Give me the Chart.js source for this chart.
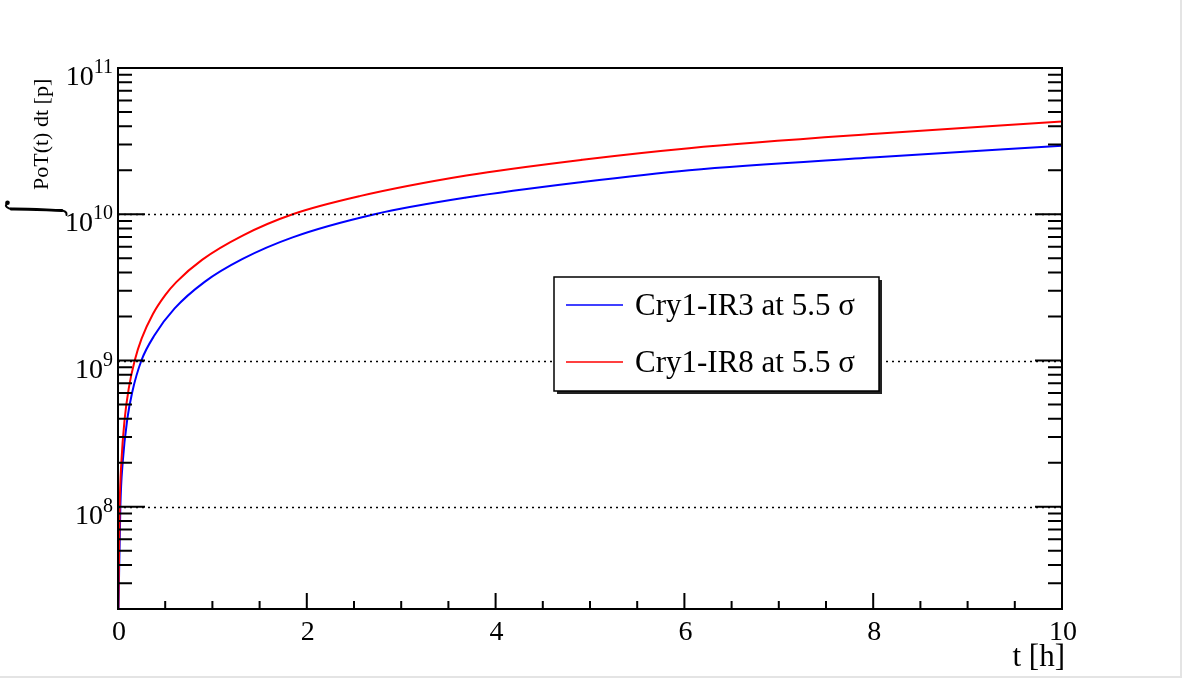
<!DOCTYPE html>
<html lang="en">
<head>
  <meta charset="UTF-8" />
  <title>Integrated PoT vs time</title>
  <script src="https://cdn.jsdelivr.net/npm/chart.js"></script>
  <style>
    html, body { margin: 0; padding: 0; background: #fff; }
    #wrap { width: 1182px; height: 678px; position: relative; }
  </style>
</head>
<body>
  <div id="wrap"><canvas id="chart"></canvas></div>

  <script>
    // values: time [h] and integrated protons on target [p]
    const tIR3 = [0.005, 0.025, 0.05, 0.10, 0.15, 0.248, 0.39, 0.60, 0.918, 1.32, 1.85, 2.72, 3.69, 4.92, 6.05, 8.03, 10];
    const potIR3 = [2.0e7, 1.0e8, 2.02e8, 4.03e8, 6.05e8, 1.0e9, 1.5e9, 2.27e9, 3.45e9, 4.95e9, 6.95e9, 1.0e10, 1.3e10, 1.66e10, 2.0e10, 2.45e10, 2.94e10];

    const tIR8 = [0.0035, 0.018, 0.036, 0.07, 0.113, 0.177, 0.25, 0.37, 0.5, 0.62, 0.89, 1.32, 1.85, 2.56, 3.69, 4.92, 6.05, 8.03, 10];
    const potIR8 = [2.0e7, 1.02e8, 2.03e8, 3.95e8, 6.4e8, 1.0e9, 1.41e9, 2.08e9, 2.8e9, 3.45e9, 4.88e9, 7.15e9, 1.0e10, 1.33e10, 1.84e10, 2.36e10, 2.83e10, 3.55e10, 4.3e10];

    const seriesNames = ['Cry1-IR3 at 5.5 σ', 'Cry1-IR8 at 5.5 σ'];
    const xTicks = [0, 2, 4, 6, 8, 10];
    const yDecades = [8, 9, 10, 11];   // labels 10^n
    const yMin = 2e7, yMax = 1e11;

    const FONT = '"Liberation Serif", "DejaVu Serif", serif';

    function toPoints(ts, vs) {
      return ts.map((t, i) => ({ x: t, y: vs[i] }));
    }

    // integral sign lying on its side (axis title is rotated)
    function drawIntegral(ctx) {
      ctx.save();
      ctx.strokeStyle = '#000';
      ctx.fillStyle = '#000';
      ctx.lineCap = 'round';
      ctx.lineWidth = 2.8;
      ctx.beginPath();
      ctx.moveTo(11, 209);
      ctx.bezierCurveTo(28, 208.8, 46, 210, 62, 210.5);
      ctx.stroke();
      ctx.lineWidth = 2;
      ctx.beginPath();
      ctx.moveTo(12, 209);
      ctx.bezierCurveTo(7, 209, 5, 206, 6.5, 203.5);
      ctx.moveTo(61, 210.5);
      ctx.bezierCurveTo(65, 210.7, 67, 212.5, 66.5, 215);
      ctx.stroke();
      ctx.beginPath();
      ctx.arc(7.5, 202.8, 2.3, 0, Math.PI * 2);
      ctx.fill();
      ctx.restore();
    }

    // ROOT style frame, ticks, labels, legend
    const rootStyle = {
      id: 'rootStyle',
      beforeDraw(chart) {
        const ctx = chart.ctx;
        ctx.save();
        ctx.fillStyle = '#fff';
        ctx.fillRect(0, 0, chart.width, chart.height);
        ctx.fillStyle = '#e4e4e4';
        ctx.fillRect(chart.width - 2, 0, 2, chart.height);
        ctx.fillRect(0, chart.height - 2, chart.width, 2);
        ctx.restore();
      },
      afterDatasetsDraw(chart) {
        const ctx = chart.ctx;
        const a = chart.chartArea;
        const xs = chart.scales.x, ys = chart.scales.y;
        ctx.save();

        // dotted grid at decades
        ctx.strokeStyle = '#000';
        ctx.lineWidth = 1.5;
        ctx.setLineDash([2, 4]);
        yDecades.forEach(n => {
          const y = Math.round(ys.getPixelForValue(Math.pow(10, n))) + 0.5;
          if (y > a.top + 2 && y < a.bottom - 2) {
            ctx.beginPath();
            ctx.moveTo(a.left, y);
            ctx.lineTo(a.right, y);
            ctx.stroke();
          }
        });
        ctx.setLineDash([]);

        // y ticks, left and right
        ctx.lineWidth = 2;
        ctx.beginPath();
        for (let d = 7; d <= 10; d++) {
          for (let k = 1; k <= 9; k++) {
            const v = k * Math.pow(10, d);
            if (v < yMin || v > yMax) continue;
            const y = ys.getPixelForValue(v);
            const len = k === 1 ? 27 : 14;
            ctx.moveTo(a.left, y); ctx.lineTo(a.left + len, y);
            ctx.moveTo(a.right, y); ctx.lineTo(a.right - len, y);
          }
        }
        // x ticks, bottom only
        for (let t = 0; t <= 10.001; t += 0.5) {
          const x = xs.getPixelForValue(t);
          const len = Math.abs(t / 2 - Math.round(t / 2)) < 1e-6 ? 16 : 8;
          ctx.moveTo(x, a.bottom); ctx.lineTo(x, a.bottom - len);
        }
        ctx.stroke();

        // frame
        ctx.lineWidth = 2;
        ctx.strokeRect(a.left, a.top, a.right - a.left, a.bottom - a.top);

        // x tick labels
        ctx.fillStyle = '#000';
        ctx.font = '28px ' + FONT;
        ctx.textAlign = 'center';
        ctx.textBaseline = 'alphabetic';
        xTicks.forEach(t => {
          ctx.fillText(String(t), xs.getPixelForValue(t) + 1, a.bottom + 31);
        });

        // y tick labels 10^n
        yDecades.forEach(n => {
          const y = ys.getPixelForValue(Math.pow(10, n));
          ctx.font = '20px ' + FONT;
          const wSup = ctx.measureText(String(n)).width;
          const right = a.left - 5;
          ctx.textAlign = 'left';
          ctx.fillText(String(n), right - wSup, y + 5);
          ctx.font = '28px ' + FONT;
          ctx.textAlign = 'right';
          ctx.fillText('10', right - wSup, y + 17);
        });

        // x title
        ctx.font = '31px ' + FONT;
        ctx.textAlign = 'right';
        ctx.fillText('t [h]', a.right + 3, a.bottom + 57);

        // y title: integral sign with the quantity as subscript, rotated
        drawIntegral(ctx);
        ctx.save();
        ctx.translate(40, 210);
        ctx.rotate(-Math.PI / 2);
        ctx.font = '22px ' + FONT;
        ctx.textAlign = 'left';
        ctx.fillText('PoT(t) dt [p]', 20, 8);
        ctx.restore();

        // legend
        const lx = 554, ly = 277, lw = 325, lh = 114;
        ctx.fillStyle = '#222';
        ctx.fillRect(lx + 3, ly + 3, lw, lh);
        ctx.fillStyle = '#fff';
        ctx.fillRect(lx, ly, lw, lh);
        ctx.strokeStyle = '#000';
        ctx.lineWidth = 1.5;
        ctx.strokeRect(lx, ly, lw, lh);
        chart.data.datasets.forEach((ds, i) => {
          const yy = ly + 28 + i * 57;
          ctx.strokeStyle = ds.borderColor;
          ctx.lineWidth = 1.5;
          ctx.beginPath();
          ctx.moveTo(lx + 12, yy);
          ctx.lineTo(lx + 69, yy);
          ctx.stroke();
          ctx.fillStyle = '#000';
          ctx.font = '31px ' + FONT;
          ctx.textAlign = 'left';
          ctx.fillText(ds.label, lx + 81, yy + 10);
        });

        ctx.restore();
      }
    };

    new Chart(document.getElementById('chart'), {
      type: 'line',
      data: {
        datasets: [
          {
            label: seriesNames[0],
            data: toPoints(tIR3, potIR3),
            borderColor: '#0000ff',
            borderWidth: 2,
            pointRadius: 0,
            cubicInterpolationMode: 'monotone',
            order: 1
          },
          {
            label: seriesNames[1],
            data: toPoints(tIR8, potIR8),
            borderColor: '#ff0000',
            borderWidth: 2,
            pointRadius: 0,
            cubicInterpolationMode: 'monotone',
            order: 0
          }
        ]
      },
      options: {
        responsive: true,
        maintainAspectRatio: false,
        animation: false,
        layout: { padding: { left: 118, right: 120, top: 68, bottom: 69 } },
        plugins: {
          legend: { display: false },
          tooltip: { enabled: false }
        },
        scales: {
          x: {
            type: 'linear',
            min: 0,
            max: 10,
            ticks: { display: false },
            grid: { display: false },
            border: { display: false },
            afterFit: s => { s.height = 0; }
          },
          y: {
            type: 'logarithmic',
            min: yMin,
            max: yMax,
            ticks: { display: false },
            grid: { display: false },
            border: { display: false },
            afterFit: s => { s.width = 0; }
          }
        }
      },
      plugins: [rootStyle]
    });
  </script>
</body>
</html>
